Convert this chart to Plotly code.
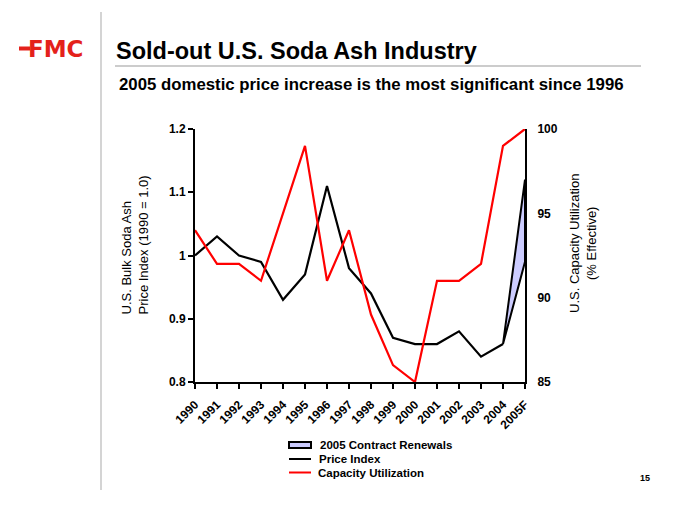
import plotly.graph_objects as go

# ---- data ----
years = ["1990", "1991", "1992", "1993", "1994", "1995", "1996", "1997",
         "1998", "1999", "2000", "2001", "2002", "2003", "2004", "2005F"]
price_index = [1.00, 1.03, 1.00, 0.99, 0.93, 0.97, 1.11, 0.98,
               0.94, 0.87, 0.86, 0.86, 0.88, 0.84, 0.86, 1.12]
renewal_low_2005 = 0.99
capacity_util = [94, 92, 92, 91, 95, 99, 91, 94,
                 89, 86, 85, 91, 91, 92, 99, 100]
left_ticks = [0.8, 0.9, 1.0, 1.1, 1.2]
left_ticktext = ["0.8", "0.9", "1", "1.1", "1.2"]
right_ticks = [85, 90, 95, 100]

FONT = "Liberation Sans, Arial, sans-serif"
W, H = 680, 505
L, R, T, B = 195, 155, 129, 123
PW, PH = W - L - R, H - T - B

def px(x):
    return (x - L) / PW

def py(y):
    return (H - B - y) / PH

fig = go.Figure()

# price index line
fig.add_trace(go.Scatter(
    x=years[:-1], y=price_index[:-1], mode="lines",
    line=dict(color="black", width=2.2), showlegend=False, cliponaxis=False))

# shaded 2005 contract renewals band
fig.add_trace(go.Scatter(
    x=[years[-2], years[-1], years[-1], years[-2]],
    y=[price_index[-2], price_index[-1], renewal_low_2005, price_index[-2]],
    fill="toself", fillcolor="#ccccff", mode="lines",
    line=dict(color="black", width=2), showlegend=False, cliponaxis=False,
    hoverinfo="skip"))

# capacity utilization
fig.add_trace(go.Scatter(
    x=years, y=capacity_util, mode="lines", yaxis="y2",
    line=dict(color="#ff0000", width=2.2), showlegend=False, cliponaxis=False))

axis_font = dict(family=FONT, size=12, color="black")

fig.update_layout(
    width=W, height=H, autosize=False,
    margin=dict(l=L, r=R, t=T, b=B, pad=0),
    paper_bgcolor="white", plot_bgcolor="white",
    showlegend=False,
    xaxis=dict(type="category", categoryorder="array", categoryarray=years,
               range=[0, len(years) - 1],
               tickvals=years, ticktext=["<b>%s</b>" % y for y in years],
               tickangle=-45, ticks="outside", ticklen=5, tickwidth=2,
               tickcolor="black", showline=True, linecolor="black",
               linewidth=2, showgrid=False, zeroline=False,
               ticklabelstandoff=4, tickfont=axis_font),
    yaxis=dict(range=[0.8, 1.2], tickvals=left_ticks,
               ticktext=["<b>%s</b>" % t for t in left_ticktext],
               ticks="outside", ticklen=5, tickwidth=2, tickcolor="black",
               showline=True, linecolor="black", linewidth=2,
               showgrid=False, zeroline=False, tickfont=axis_font),
    yaxis2=dict(range=[85, 100], tickvals=right_ticks,
                ticktext=["<b>%d</b>" % t for t in right_ticks],
                overlaying="y", side="right", anchor="x",
                ticks="", showline=True, linecolor="black", linewidth=2,
                ticklabelstandoff=8,
                showgrid=False, zeroline=False, tickfont=axis_font),
)

shapes = []
anns = []

# vertical divider and title rule
shapes.append(dict(type="line", xref="paper", yref="paper",
                   x0=px(101), x1=px(101), y0=py(12), y1=py(490),
                   line=dict(color="#d4d4d4", width=2)))
shapes.append(dict(type="line", xref="paper", yref="paper",
                   x0=px(115), x1=px(641), y0=py(66), y1=py(66),
                   line=dict(color="#cccccc", width=2)))

# FMC logo
shapes.append(dict(type="rect", xref="paper", yref="paper",
                   x0=px(19), x1=px(30), y0=py(46.5), y1=py(50.5),
                   fillcolor="#e4211b", line=dict(width=0)))
anns.append(dict(text="<b>FMC</b>", x=px(26), y=py(49), xref="paper", yref="paper",
                 xanchor="left", yanchor="middle", showarrow=False,
                 font=dict(family="DejaVu Sans, sans-serif", size=23, color="#e4211b")))

# title and subtitle
anns.append(dict(text="<b>Sold-out U.S. Soda Ash Industry</b>", x=px(114), y=py(51),
                 xref="paper", yref="paper", xanchor="left", yanchor="middle",
                 showarrow=False, font=dict(family=FONT, size=23.5, color="black")))
anns.append(dict(text="<b>2005 domestic price increase is the most significant since 1996</b>",
                 x=px(117), y=py(85), xref="paper", yref="paper", xanchor="left",
                 yanchor="middle", showarrow=False,
                 font=dict(family=FONT, size=16.8, color="black")))

# axis titles
anns.append(dict(text="U.S. Bulk Soda Ash", x=px(126), y=py(317), xref="paper", yref="paper",
                 xanchor="center", yanchor="bottom", textangle=-90, showarrow=False,
                 font=dict(family=FONT, size=13, color="black")))
anns.append(dict(text="Price Index (1990 = 1.0)", x=px(143), y=py(317), xref="paper", yref="paper",
                 xanchor="center", yanchor="bottom", textangle=-90, showarrow=False,
                 font=dict(family=FONT, size=13, color="black")))
anns.append(dict(text="U.S. Capacity Utilization<br>(% Effective)", x=px(583), y=py(244),
                 xref="paper", yref="paper", xanchor="center", yanchor="middle",
                 textangle=-90, showarrow=False, align="center",
                 font=dict(family=FONT, size=13, color="black")))

# legend (manual)
shapes.append(dict(type="rect", xref="paper", yref="paper",
                   x0=px(289), x1=px(311), y0=py(442), y1=py(448),
                   fillcolor="#ccccff", line=dict(color="black", width=2)))
shapes.append(dict(type="line", xref="paper", yref="paper",
                   x0=px(289), x1=px(311), y0=py(459), y1=py(459),
                   line=dict(color="black", width=2)))
shapes.append(dict(type="line", xref="paper", yref="paper",
                   x0=px(289), x1=px(311), y0=py(472.5), y1=py(472.5),
                   line=dict(color="#ff0000", width=2)))
for txt, ypx, xpx in [("2005 Contract Renewals", 445, 318),
                      ("Price Index", 459, 317),
                      ("Capacity Utilization", 472.5, 316)]:
    anns.append(dict(text="<b>%s</b>" % txt, x=px(xpx), y=py(ypx), xref="paper", yref="paper",
                     xanchor="left", yanchor="middle", showarrow=False,
                     font=dict(family=FONT, size=11.5, color="black")))

# page number
anns.append(dict(text="<b>15</b>", x=px(645), y=py(478), xref="paper", yref="paper",
                 xanchor="center", yanchor="middle", showarrow=False,
                 font=dict(family=FONT, size=9, color="black")))

fig.update_layout(shapes=shapes, annotations=anns)
fig.write_html("out.html")
